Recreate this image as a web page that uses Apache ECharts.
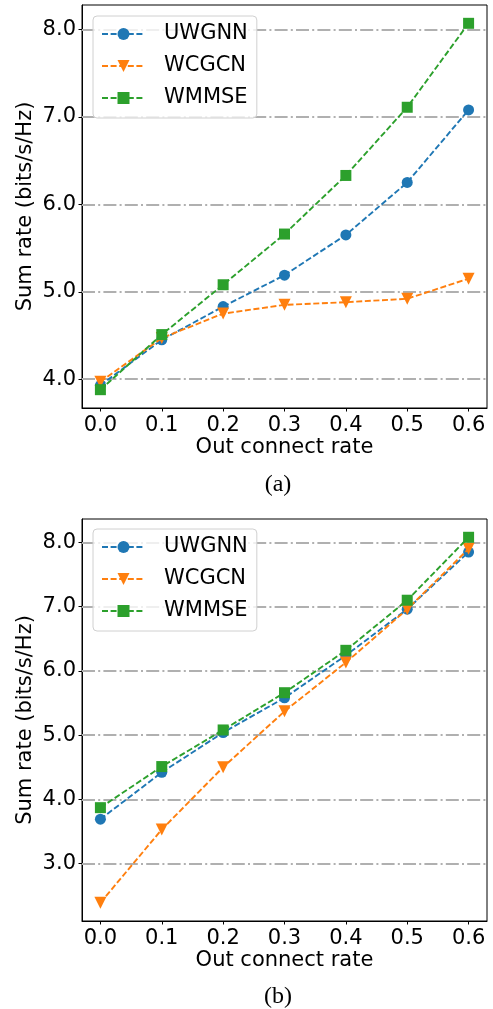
<!DOCTYPE html>
<html lang="en">
<head>
    <meta charset="UTF-8">
    <title>Sum rate vs out connect rate</title>
    <script src="https://cdn.jsdelivr.net/npm/echarts@6/dist/echarts.min.js"></script>
    <style>
        html, body { margin: 0; padding: 0; background: #fff; }
        #chart { width: 493px; height: 1009px; }
    </style>
</head>
<body>
<div id="chart"></div>

<script>
    // x values and tick labels
    var xValues = [0.0, 0.1, 0.2, 0.3, 0.4, 0.5, 0.6];
    var seriesNames = ['UWGNN', 'WCGCN', 'WMMSE'];

    // (a)
    var uwgnnA = [3.93, 4.45, 4.83, 5.19, 5.65, 6.25, 7.08];
    var wcgcnA = [3.97, 4.47, 4.75, 4.85, 4.88, 4.92, 5.15];
    var wmmseA = [3.88, 4.51, 5.08, 5.66, 6.33, 7.11, 8.07];
    var yTicksA = [4, 5, 6, 7, 8];

    // (b)
    var uwgnnB = [3.69, 4.42, 5.04, 5.58, 6.24, 6.96, 7.85];
    var wcgcnB = [2.39, 3.53, 4.50, 5.37, 6.13, 6.96, 7.90];
    var wmmseB = [3.87, 4.51, 5.08, 5.66, 6.32, 7.10, 8.08];
    var yTicksB = [3, 4, 5, 6, 7, 8];

    var colors = ['#1f77b4', '#ff7f0e', '#2ca02c'];
    var symbols = ['circle', 'triangle', 'rect'];
    var symbolSizes = [11, 12, 11];
    var symbolRotates = [0, 180, 0];
    var font = 'DejaVu Sans';

    function pairs(ys) {
        return xValues.map(function (x, i) { return [x, ys[i]]; });
    }

    // matplotlib style 5% margins
    function limits(arrs) {
        var all = [].concat.apply([], arrs);
        var lo = Math.min.apply(null, all), hi = Math.max.apply(null, all);
        var m = (hi - lo) * 0.05;
        return [lo - m, hi + m];
    }

    function makeSeries(gi, arrs, yTicks) {
        return arrs.map(function (ys, k) {
            var s = {
                name: seriesNames[k],
                type: 'line',
                xAxisIndex: gi,
                yAxisIndex: gi,
                data: pairs(ys),
                symbol: symbols[k],
                symbolSize: symbolSizes[k],
                symbolRotate: symbolRotates[k],
                showAllSymbol: true,
                color: colors[k],
                itemStyle: {color: colors[k]},
                lineStyle: {color: colors[k], width: 1.9, type: [6, 2.6]},
                z: 3 + k
            };
            if (k === 0) {
                s.markLine = {
                    silent: true,
                    symbol: 'none',
                    z: 1,
                    label: {show: false},
                    lineStyle: {color: '#b0b0b0', width: 2, type: [13, 3.2, 2, 3.2]},
                    data: yTicks.map(function (v) { return {yAxis: v}; })
                };
            }
            return s;
        });
    }

    function xAxisOpt(gi) {
        return {
            type: 'value',
            gridIndex: gi,
            min: -0.03,
            max: 0.63,
            name: 'Out connect rate',
            nameLocation: 'middle',
            nameGap: 27,
            nameTextStyle: {fontFamily: font, fontSize: 21, color: '#000'},
            axisLine: {show: true, onZero: false, lineStyle: {color: '#000', width: 1}},
            axisTick: {show: true, length: 3.5, lineStyle: {color: '#000', width: 1}, customValues: xValues},
            axisLabel: {
                fontFamily: font, fontSize: 21, color: '#000', margin: 7,
                customValues: xValues,
                formatter: function (v) { return v.toFixed(1); }
            },
            splitLine: {show: false}
        };
    }

    function yAxisOpt(gi, lim, yTicks) {
        return {
            type: 'value',
            gridIndex: gi,
            min: lim[0],
            max: lim[1],
            name: 'Sum rate (bits/s/Hz)',
            nameLocation: 'middle',
            nameGap: 46,
            nameMoveOverlap: false,
            nameTextStyle: {fontFamily: font, fontSize: 21, color: '#000'},
            axisLine: {show: true, onZero: false, lineStyle: {color: '#000', width: 1}},
            axisTick: {show: true, length: 3.5, lineStyle: {color: '#000', width: 1}, customValues: yTicks},
            axisLabel: {
                fontFamily: font, fontSize: 21, color: '#000', margin: 6,
                customValues: yTicks,
                formatter: function (v) { return v.toFixed(1); }
            },
            splitLine: {show: false}
        };
    }

    function legendOpt(top) {
        return {
            orient: 'vertical',
            left: 93,
            top: top,
            data: seriesNames,
            itemWidth: 43,
            itemHeight: 15,
            itemGap: 10,
            padding: [7, 9, 9, 8],
            borderColor: '#d0d0d0',
            borderWidth: 1,
            borderRadius: 4,
            backgroundColor: 'rgba(255,255,255,0.8)',
            textStyle: {fontFamily: font, fontSize: 21, color: '#000', lineHeight: 22, padding: [0, 0, 0, 14]}
        };
    }

    var limA = limits([uwgnnA, wcgcnA, wmmseA]);
    var limB = limits([uwgnnB, wcgcnB, wmmseB]);

    var myChart = echarts.init(document.getElementById('chart'), null, {renderer: 'canvas'});

    option = {
        animation: false,
        backgroundColor: '#fff',
        grid: [
            {left: 82, top: 5, width: 405, height: 403, show: true, borderColor: '#000', borderWidth: 1, backgroundColor: 'transparent'},
            {left: 82, top: 519, width: 405, height: 402, show: true, borderColor: '#000', borderWidth: 1, backgroundColor: 'transparent'}
        ],
        legend: [legendOpt(16), legendOpt(529)],
        xAxis: [xAxisOpt(0), xAxisOpt(1)],
        yAxis: [yAxisOpt(0, limA, yTicksA), yAxisOpt(1, limB, yTicksB)],
        series: makeSeries(0, [uwgnnA, wcgcnA, wmmseA], yTicksA)
            .concat(makeSeries(1, [uwgnnB, wcgcnB, wmmseB], yTicksB)),
        graphic: [
            {type: 'text', x: 278, y: 485, style: {text: '(a)', font: '24px "Liberation Serif"', fill: '#000', align: 'center', verticalAlign: 'middle', textAlign: 'center', textVerticalAlign: 'middle'}},
            {type: 'text', x: 278, y: 997, style: {text: '(b)', font: '24px "Liberation Serif"', fill: '#000', align: 'center', verticalAlign: 'middle', textAlign: 'center', textVerticalAlign: 'middle'}}
        ]
    };

    myChart.setOption(option);
</script>
</body>
</html>
